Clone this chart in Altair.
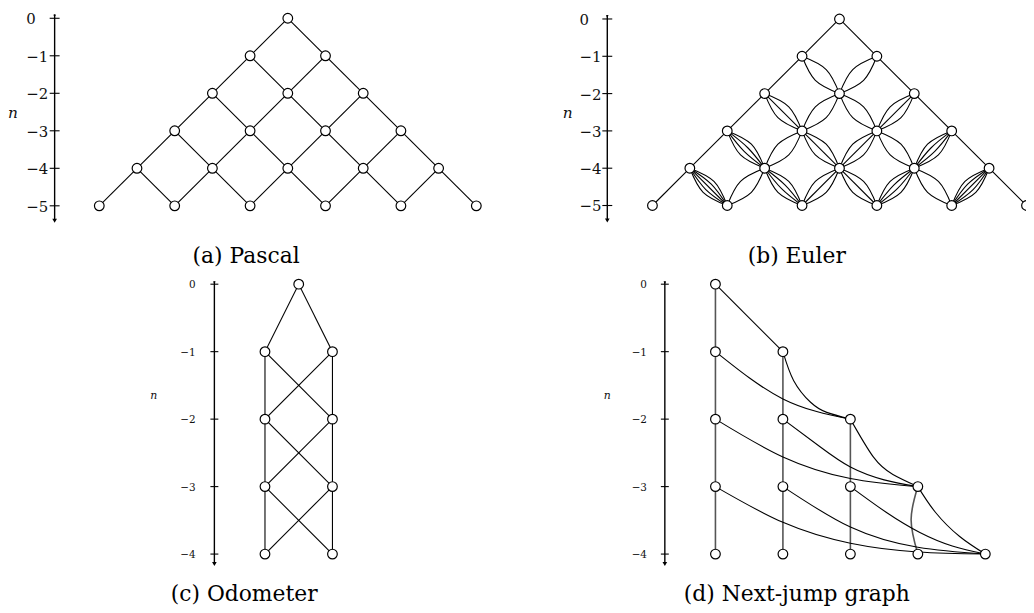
import altair as alt
import numpy as np
import pandas as pd

FONT = "DejaVu Serif"

# ---------------- data ----------------
# (a) Pascal: levels n = 0 ... -5, node k = 0..L on level L
pascal_levels = [0, -1, -2, -3, -4, -5]
pascal_ticks = [0, -1, -2, -3, -4, -5]

# (b) Euler: multiplicity of the edges from node k of level L to lower-left / lower-right node
euler_levels = [0, -1, -2, -3, -4, -5]
euler_left_mult = [[1], [1, 2], [1, 2, 3], [1, 2, 3, 4], [1, 2, 3, 4, 5]]
euler_right_mult = [[1], [2, 1], [3, 2, 1], [4, 3, 2, 1], [5, 4, 3, 2, 1]]
euler_ticks = [0, -1, -2, -3, -4, -5]

# (c) Odometer
odo_node_x = [0.5, 0, 1, 0, 1, 0, 1, 0, 1]
odo_node_y = [0, -1, -1, -2, -2, -3, -3, -4, -4]
odo_edges = [(0, 1), (0, 2), (1, 3), (1, 4), (2, 3), (2, 4), (3, 5), (3, 6),
             (4, 5), (4, 6), (5, 7), (5, 8), (6, 7), (6, 8)]
odo_ticks = [0, -1, -2, -3, -4]

# (d) Next-jump graph
nj_node_x = [0, 0, 1, 0, 1, 2, 0, 1, 2, 3, 0, 1, 2, 3, 4]
nj_node_y = [0, -1, -1, -2, -2, -2, -3, -3, -3, -3, -4, -4, -4, -4, -4]
nj_vertical = [
    [(0, 0), (0, -4)],
    [(1, -1), (1, -4)],
    [(2, -2), (2, -4)],
    [(3, -3), (2.90, -3.49), (3, -4)],
]
nj_curves = [
    [(0, 0), (1, -1)],
    [(0, -1), (1, -1.70), (2, -2)],
    [(1, -1), (1.16, -1.43), (1.41, -1.75), (1.65, -1.90), (2, -2)],
    [(0, -2), (1, -2.56), (2, -2.88), (3, -3)],
    [(1, -2), (1.55, -2.41), (2, -2.71), (2.5, -2.90), (3, -3)],
    [(2, -2), (2.34, -2.56), (2.63, -2.82), (3, -3)],
    [(0, -3), (1, -3.53), (2, -3.84), (3, -3.97), (4, -4)],
    [(1, -3), (2, -3.60), (3, -3.90), (4, -4)],
    [(2, -3), (2.53, -3.38), (3.03, -3.68), (3.51, -3.88), (4, -4)],
    [(3, -3), (3.26, -3.38), (3.62, -3.74), (4, -4)],
]
nj_ticks = [0, -1, -2, -3, -4]

captions = ["(a) Pascal", "(b) Euler", "(c) Odometer", "(d) Next-jump graph"]


# ---------------- helpers ----------------
def edges_df(paths, prefix):
    rows = []
    for i, p in enumerate(paths):
        for s, (x, y) in enumerate(p):
            rows.append({"edge": f"{prefix}{i}", "seq": s, "x": x, "y": y})
    return pd.DataFrame(rows)


def panel(cfg, nodes, edges, ticks, caption, clip=False, vert=None):
    ox, oy, W, H = cfg["ox"], cfg["oy"], cfg["W"], cfg["H"]
    x0, xu, y0, yu = cfg["x0"], cfg["xu"], cfg["y0"], cfg["yu"]

    def dx(px):
        return (px - x0) / xu

    def dy(py):
        return (y0 - py) / yu

    X = alt.X("x:Q", scale=alt.Scale(domain=[dx(ox), dx(ox + W)], nice=False, zero=False), axis=None)
    Y = alt.Y("y:Q", scale=alt.Scale(domain=[dy(oy + H), dy(oy)], nice=False, zero=False), axis=None)

    ax = dx(cfg["axis_x"])
    top = ticks[0] + cfg["top_ext"] / yu
    tip = ticks[-1] - cfg["tip_ext"] / yu
    arrow_c = tip + 3 / yu
    th = cfg["tick_half"] / xu

    layers = []
    layers.append(alt.Chart(pd.DataFrame({"x": [ax], "y": [top], "y2": [arrow_c]}))
                  .mark_rule(color="black", strokeWidth=1.4)
                  .encode(x=X, y=Y, y2="y2:Q"))
    layers.append(alt.Chart(pd.DataFrame({"x": [ax - th] * len(ticks), "x2": [ax + th] * len(ticks), "y": ticks}))
                  .mark_rule(color="black", strokeWidth=1.1)
                  .encode(x=X, x2="x2:Q", y=Y))
    layers.append(alt.Chart(pd.DataFrame({"x": [ax], "y": [arrow_c]}))
                  .mark_point(shape="triangle-down", filled=True, color="black", size=22, opacity=1)
                  .encode(x=X, y=Y))
    layers.append(alt.Chart(pd.DataFrame({"x": [ax], "y": [top - 1.5 / yu]}))
                  .mark_point(shape="triangle-down", filled=True, color="black", size=7, opacity=1)
                  .encode(x=X, y=Y))
    labs = ["0" if t == 0 else "\u2212" + str(abs(t)) for t in ticks]
    layers.append(alt.Chart(pd.DataFrame({"x": [dx(cfg["label_x"])] * len(ticks), "y": ticks, "t": labs}))
                  .mark_text(font=FONT, fontSize=cfg["label_fs"], align=cfg["label_align"],
                             baseline="middle", dy=1, color="#111")
                  .encode(x=X, y=Y, text="t:N"))
    layers.append(alt.Chart(pd.DataFrame({"x": [dx(cfg["n_x"])], "y": [dy(cfg["n_y"])], "t": ["n"]}))
                  .mark_text(font=FONT, fontStyle="italic", fontSize=cfg["n_fs"], align="center",
                             baseline="middle", color="#111")
                  .encode(x=X, y=Y, text="t:N"))
    layers.append(alt.Chart(pd.DataFrame({"x": [dx(cfg["cap_x"])], "y": [dy(cfg["cap_y"])], "t": [caption]}))
                  .mark_text(font=FONT, fontSize=22, align="center", baseline="alphabetic", color="black")
                  .encode(x=X, y=Y, text="t:N"))
    if vert is not None:
        layers.append(alt.Chart(vert)
                      .mark_line(interpolate="natural", color="#555555", strokeWidth=1.6, clip=clip)
                      .encode(x=X, y=Y, detail="edge:N", order="seq:Q"))
    layers.append(alt.Chart(edges)
                  .mark_line(interpolate="natural", color="black", strokeWidth=1.1, clip=clip)
                  .encode(x=X, y=Y, detail="edge:N", order="seq:Q"))
    layers.append(alt.Chart(nodes)
                  .mark_point(shape="circle", filled=True, fill="white", stroke="black",
                              strokeWidth=1.2, size=95, opacity=1, clip=clip)
                  .encode(x=X, y=Y))
    return alt.layer(*layers).properties(width=W, height=H)


# ---------------- (a) Pascal ----------------
pa_nodes, pa_paths = [], []
for L, n in enumerate(pascal_levels):
    for k in range(L + 1):
        x = 2 * k - L
        pa_nodes.append({"x": x, "y": n})
        if L < len(pascal_levels) - 1:
            pa_paths.append([(x, n), (x - 1, n - 1)])
            pa_paths.append([(x, n), (x + 1, n - 1)])

# ---------------- (b) Euler ----------------
eu_nodes, eu_paths = [], []
W_LENS = 0.145  # lens half width relative to edge length
for L, n in enumerate(euler_levels):
    for k in range(L + 1):
        x = 2 * k - L
        eu_nodes.append({"x": x, "y": n})
        if L < len(euler_levels) - 1:
            for side, mult in ((-1, euler_left_mult[L][k]), (1, euler_right_mult[L][k])):
                x2, y2 = x + side, n - 1
                mx, my = (x + x2) / 2, (n + y2) / 2
                length = np.hypot(x2 - x, y2 - n)
                px, py = -(y2 - n) / length, (x2 - x) / length
                offs = np.linspace(-1, 1, mult) * W_LENS * length if mult > 1 else [0.0]
                for o in offs:
                    if abs(o) < 1e-9:
                        eu_paths.append([(x, n), (x2, y2)])
                    else:
                        eu_paths.append([(x, n), (mx + o * px, my + o * py), (x2, y2)])

# ---------------- (c) Odometer ----------------
od_nodes = pd.DataFrame({"x": odo_node_x, "y": odo_node_y})
od_paths = [[(odo_node_x[a], odo_node_y[a]), (odo_node_x[b], odo_node_y[b])] for a, b in odo_edges]

# ---------------- (d) Next-jump ----------------
nj_nodes = pd.DataFrame({"x": nj_node_x, "y": nj_node_y})

cfg_a = dict(ox=8, oy=8, W=515, H=265, x0=290, xu=38, y0=15, yu=37.8,
             axis_x=55, top_ext=4, tip_ext=18, tick_half=5, label_x=26.5, label_align="left",
             label_fs=15, n_x=13, n_y=111, n_fs=15.5, cap_x=248, cap_y=262)
cfg_b = dict(ox=523, oy=8, W=511, H=265, x0=846, xu=37.7, y0=15.7, yu=37.6,
             axis_x=612, top_ext=4, tip_ext=18, tick_half=5, label_x=584, label_align="left",
             label_fs=15, n_x=572, n_y=111, n_fs=15.5, cap_x=803, cap_y=262)
cfg_c = dict(ox=8, oy=273, W=515, H=335, x0=267, xu=68, y0=283, yu=68,
             axis_x=216, top_ext=3, tip_ext=13, tick_half=4, label_x=197, label_align="right",
             label_fs=10.5, n_x=155, n_y=396, n_fs=11, cap_x=246, cap_y=602)
cfg_d = dict(ox=523, oy=273, W=511, H=335, x0=721, xu=68, y0=283, yu=68,
             axis_x=670, top_ext=3, tip_ext=13, tick_half=4, label_x=652, label_align="right",
             label_fs=10.5, n_x=612, n_y=396, n_fs=11, cap_x=803, cap_y=602)

pa = panel(cfg_a, pd.DataFrame(pa_nodes), edges_df(pa_paths, "a"), pascal_ticks, captions[0])
pb = panel(cfg_b, pd.DataFrame(eu_nodes), edges_df(eu_paths, "b"), euler_ticks, captions[1], clip=True)
pc = panel(cfg_c, od_nodes, edges_df(od_paths, "c"), odo_ticks, captions[2])
pd_ = panel(cfg_d, nj_nodes, edges_df(nj_curves, "d"), nj_ticks, captions[3],
            vert=edges_df(nj_vertical, "v"))

row1 = alt.hconcat(pa, pb, spacing=0)
row2 = alt.hconcat(pc, pd_, spacing=0)
chart = alt.vconcat(row1, row2, spacing=0, padding=0).configure_view(strokeWidth=0)

chart.save("out.html", embed_options={"renderer": "svg", "actions": False})
